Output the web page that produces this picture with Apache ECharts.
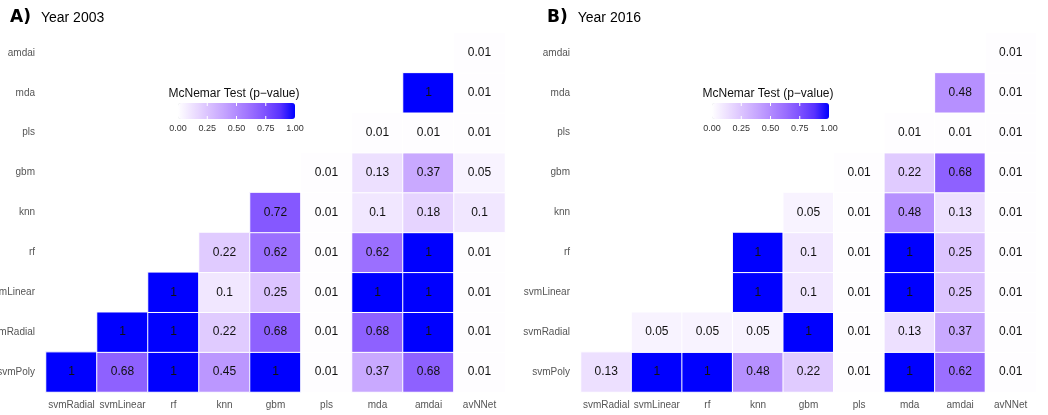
<!DOCTYPE html>
<html lang="en">
<head>
<meta charset="UTF-8">
<title>McNemar Test</title>
<script src="https://cdn.jsdelivr.net/npm/echarts@6/dist/echarts.min.js"></script>
<style>
    * { margin: 0; padding: 0; }
    html, body { height: 100%; background: #fff; }
</style>
</head>
<body>
<div id="main" style="width: 1048px; height: 415px;"></div>
<script type="text/javascript">
    // models on the x axis (left to right) and y axis (bottom to top)
    var xModels = ['svmRadial', 'svmLinear', 'rf', 'knn', 'gbm', 'pls', 'mda', 'amdai', 'avNNet'];
    var yModels = ['svmPoly', 'svmRadial', 'svmLinear', 'rf', 'knn', 'gbm', 'pls', 'mda', 'amdai'];

    // p-values, one row per y model (bottom to top), null = no cell
    var p2003 = [
        [1, 0.68, 1, 0.45, 1, 0.01, 0.37, 0.68, 0.01],
        [null, 1, 1, 0.22, 0.68, 0.01, 0.68, 1, 0.01],
        [null, null, 1, 0.1, 0.25, 0.01, 1, 1, 0.01],
        [null, null, null, 0.22, 0.62, 0.01, 0.62, 1, 0.01],
        [null, null, null, null, 0.72, 0.01, 0.1, 0.18, 0.1],
        [null, null, null, null, null, 0.01, 0.13, 0.37, 0.05],
        [null, null, null, null, null, null, 0.01, 0.01, 0.01],
        [null, null, null, null, null, null, null, 1, 0.01],
        [null, null, null, null, null, null, null, null, 0.01]
    ];
    var p2016 = [
        [0.13, 1, 1, 0.48, 0.22, 0.01, 1, 0.62, 0.01],
        [null, 0.05, 0.05, 0.05, 1, 0.01, 0.13, 0.37, 0.01],
        [null, null, null, 1, 0.1, 0.01, 1, 0.25, 0.01],
        [null, null, null, 1, 0.1, 0.01, 1, 0.25, 0.01],
        [null, null, null, null, 0.05, 0.01, 0.48, 0.13, 0.01],
        [null, null, null, null, null, 0.01, 0.22, 0.68, 0.01],
        [null, null, null, null, null, null, 0.01, 0.01, 0.01],
        [null, null, null, null, null, null, null, 0.48, 0.01],
        [null, null, null, null, null, null, null, null, 0.01]
    ];

    var legendTicks = [0, 0.25, 0.5, 0.75, 1];
    // white -> blue (Lab-like ramp)
    var ramp = ['#ffffff', '#eee1ff', '#dcc4ff', '#c8a8ff', '#b28bff', '#9a6eff', '#7e51ff', '#5932ff', '#0000ff'];

    var font = '"Liberation Sans", Arial, sans-serif';

    function toCells(m) {
        var out = [];
        for (var r = 0; r < m.length; r++) {
            for (var c = 0; c < m[r].length; c++) {
                if (m[r][c] !== null) out.push([c, r, m[r][c]]);
            }
        }
        return out;
    }

    var panels = [
        {tag: 'A)', year: 'Year 2003', data: p2003, left: 46, width: 459, titleX: 5, barX: 178},
        {tag: 'B)', year: 'Year 2016', data: p2016, left: 581, width: 455, titleX: 542, barX: 712}
    ];
    var barW = 117, barY = 103, barH = 16;

    var option = {
        animation: false,
        backgroundColor: '#fff',
        textStyle: {fontFamily: font},
        title: [],
        grid: [],
        xAxis: [],
        yAxis: [],
        visualMap: [],
        series: [],
        graphic: []
    };

    panels.forEach(function (p, i) {
        option.title.push({
            left: p.titleX, top: 4,
            text: '{a|' + p.tag + '}  {b|' + p.year + '}',
            textStyle: {
                rich: {
                    a: {fontSize: 17, fontWeight: 900, fontFamily: '"DejaVu Sans", sans-serif', color: '#000'},
                    b: {fontSize: 14, fontWeight: 'normal', color: '#000', fontFamily: font}
                }
            }
        });
        option.grid.push({left: p.left, width: p.width, top: 33, height: 359,
            containLabel: false, outerBoundsMode: 'none'});
        option.xAxis.push({
            type: 'category', gridIndex: i, data: xModels,
            axisLine: {show: false}, axisTick: {show: false}, splitLine: {show: false},
            axisLabel: {color: '#555', fontSize: 10, margin: 8, interval: 0}
        });
        option.yAxis.push({
            type: 'category', gridIndex: i, data: yModels,
            axisLine: {show: false}, axisTick: {show: false}, splitLine: {show: false},
            axisLabel: {color: '#555', fontSize: 10, margin: 11, interval: 0}
        });
        option.visualMap.push({
            type: 'continuous', min: 0, max: 1, seriesIndex: i,
            orient: 'horizontal', left: p.barX, top: barY,
            itemWidth: barH, itemHeight: barW, padding: 0,
            calculable: false, hoverLink: false, text: null,
            inRange: {color: ramp}
        });
        option.series.push({
            type: 'heatmap', xAxisIndex: i, yAxisIndex: i,
            data: toCells(p.data),
            itemStyle: {borderColor: '#fff', borderWidth: 1},
            label: {
                show: true, color: '#111', fontSize: 12,
                formatter: function (d) { return String(d.value[2]); }
            },
            emphasis: {disabled: true}
        });

        // legend title, tick marks and tick labels
        option.graphic.push({
            type: 'text', left: p.barX + barW / 2 - 68, top: 88,
            style: {text: 'McNemar Test (p\u2212value)', fontSize: 12, fill: '#111', fontFamily: font}
        });
        legendTicks.forEach(function (t) {
            var x = p.barX + t * barW;
            option.graphic.push({
                type: 'text', x: x, y: 124,
                style: {text: t.toFixed(2), fontSize: 9, fill: '#333', align: 'center', fontFamily: font}
            });
            if (t > 0 && t < 1) {
                option.graphic.push({type: 'line', shape: {x1: x, y1: barY, x2: x, y2: barY + 3},
                    style: {stroke: '#fff', lineWidth: 1}, z: 100});
                option.graphic.push({type: 'line', shape: {x1: x, y1: barY + barH - 3, x2: x, y2: barY + barH},
                    style: {stroke: '#fff', lineWidth: 1}, z: 100});
            }
        });
    });

    var myChart = echarts.init(document.getElementById('main'));
    myChart.setOption(option);
</script>
</body>
</html>
